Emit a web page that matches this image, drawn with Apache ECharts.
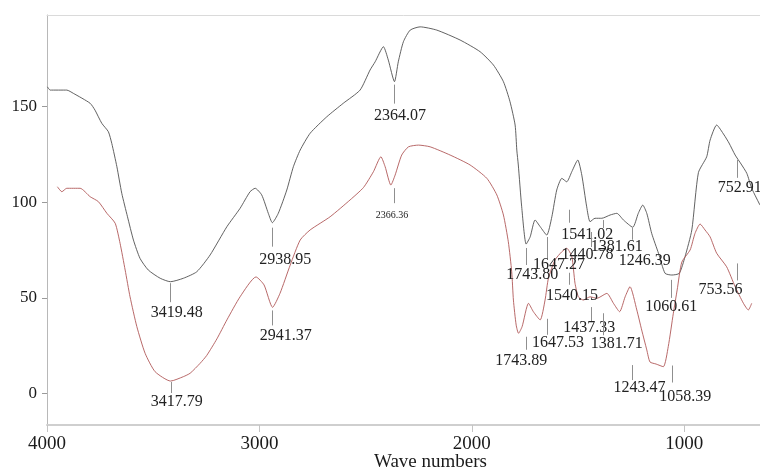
<!DOCTYPE html>
<html>
<head>
<meta charset="utf-8">
<script src="https://cdn.jsdelivr.net/npm/echarts@6/dist/echarts.min.js"></script>
<style>
  html, body { margin: 0; padding: 0; background: #fff; }
  #chart { width: 760px; height: 469px; }
</style>
</head>
<body>
<div id="chart"></div>
<script>
// FTIR spectra: transmittance against wave number (cm-1)
const xTicks = [4000, 3000, 2000, 1000];
const yTicks = [0, 50, 100, 150];

// upper spectrum (dark line)
const blackWn = [3998, 3985, 3907, 3876, 3797, 3774, 3742, 3711, 3695, 3671, 3648, 3621, 3593, 3562, 3523, 3467, 3419, 3358, 3295, 3232, 3153, 3091, 3044, 3020, 2989, 2958, 2939, 2911, 2871, 2840, 2808, 2761, 2683, 2605, 2526, 2479, 2455, 2416, 2393, 2364, 2346, 2322, 2290, 2243, 2165, 2055, 1961, 1898, 1851, 1820, 1796, 1788, 1781, 1765, 1744, 1725, 1702, 1678, 1647, 1623, 1600, 1576, 1553, 1529, 1501, 1482, 1459, 1443, 1420, 1388, 1349, 1317, 1286, 1242, 1216, 1195, 1176, 1153, 1121, 1090, 1058, 1023, 996, 964, 933, 894, 878, 847, 812, 789, 760, 732, 705, 682, 643];
const blackT = [160.4, 158.7, 158.7, 157.0, 151.8, 148.2, 141.3, 136.9, 130.8, 118.6, 104.7, 92.4, 80.2, 70.6, 64.5, 60.2, 58.4, 60.2, 63.6, 72.4, 87.2, 96.8, 105.5, 107.3, 103.8, 94.2, 89.3, 94.2, 106.4, 118.6, 127.3, 136.1, 144.7, 151.8, 158.7, 169.2, 173.5, 181.4, 174.4, 163.1, 173.5, 184.0, 190.1, 191.8, 190.1, 184.9, 178.8, 171.8, 163.1, 152.6, 140.4, 127.3, 119.5, 97.6, 78.1, 81.9, 90.7, 87.2, 82.8, 92.4, 106.4, 112.5, 110.7, 116.0, 122.1, 114.2, 97.6, 89.8, 91.6, 91.6, 93.3, 94.2, 90.7, 86.9, 94.2, 98.5, 94.2, 83.7, 73.3, 62.8, 61.9, 62.8, 71.5, 85.5, 115.5, 123.8, 132.5, 140.4, 135.2, 131.0, 124.7, 120.0, 115.1, 107.3, 98.5];

// lower spectrum (red line)
const redWn = [3951, 3930, 3907, 3844, 3797, 3758, 3718, 3679, 3656, 3632, 3609, 3577, 3538, 3491, 3418, 3358, 3326, 3279, 3248, 3200, 3153, 3091, 3016, 2978, 2938, 2903, 2855, 2808, 2761, 2667, 2573, 2510, 2463, 2428, 2408, 2381, 2361, 2330, 2298, 2251, 2196, 2102, 2008, 1929, 1882, 1851, 1828, 1812, 1804, 1791, 1780, 1763, 1733, 1710, 1678, 1655, 1639, 1608, 1576, 1553, 1529, 1514, 1498, 1475, 1443, 1411, 1364, 1333, 1304, 1278, 1255, 1223, 1200, 1176, 1161, 1132, 1098, 1075, 1051, 1033, 1011, 972, 949, 925, 902, 878, 847, 800, 760, 721, 698, 682];
const redT = [108.1, 105.5, 107.3, 107.3, 102.9, 100.3, 94.2, 89.0, 78.5, 64.5, 50.5, 34.9, 20.9, 11.3, 6.4, 8.7, 10.5, 15.7, 19.8, 28.5, 38.4, 50.5, 60.9, 56.7, 45.0, 52.3, 67.1, 80.2, 85.5, 92.4, 101.2, 107.7, 116.0, 123.8, 118.6, 109.0, 114.2, 124.7, 129.0, 129.9, 129.0, 124.7, 119.5, 112.5, 103.8, 93.3, 79.3, 63.6, 48.8, 35.7, 31.4, 34.9, 47.1, 42.7, 38.4, 48.8, 60.3, 69.8, 74.1, 75.9, 71.5, 57.6, 50.5, 48.8, 50.5, 49.7, 52.3, 47.1, 42.7, 50.5, 55.8, 43.6, 33.1, 22.7, 16.4, 15.3, 13.9, 24.4, 41.9, 54.1, 68.7, 75.0, 83.7, 88.6, 85.5, 81.9, 73.3, 66.2, 55.8, 47.1, 43.6, 47.1];

// labelled band positions
const blackPeaks = ['3419.48', '2938.95', '2364.07', '1743.80', '1647.27', '1541.02', '1440.78', '1381.61', '1246.39', '1060.61', '752.91'];
const redPeaks = ['3417.79', '2941.37', '2366.36', '1743.89', '1647.53', '1540.15', '1437.33', '1381.71', '1243.47', '1058.39', '753.56'];

// leader placement in pixels: [gap below curve, leader length, label dx, label dy]
const blackMarkLayout = [
  [1.5, 19, 6.5, 11], [5, 19, 13, 13], [3, 19, 5.6, 12], [4, 17, 6, 10],
  [2, 21, 12.4, 7], [33, 13, 18, 12], [10.6, 15, -3, 8], [2.3, 8, 13.7, 19],
  [1.2, 12, 13, 21], [5, 18, 0, 9], [2.5, 18, 3, 10]
];
const redMarkLayout = [
  [1, 11, 6, 9], [5, 15, 14, 10], [10.4, 15, -1.9, 12], [25, 13, -5, 11],
  [29, 16, 11.4, 8], [20, 12, 2.6, 11], [10, 15, -2, 6], [18, 22, 13.7, 9],
  [70, 15, 7, 8], [42, 17, 13.4, 14], [-26, 17, -16, 9]
];
const redFontSizes = [16, 16, 10, 16, 16, 16, 16, 16, 16, 16, 16];

const SERIF = '"Liberation Serif", "DejaVu Serif", serif';
const X_MIN = 643;
const X_MAX = 4000;

function interp(wns, vals, w) {
  for (let i = 0; i < wns.length - 1; i++) {
    const a = wns[i], b = wns[i + 1];
    if ((w <= a && w >= b) || (w >= a && w <= b)) {
      const t = (w - a) / (b - a);
      return vals[i] + t * (vals[i + 1] - vals[i]);
    }
  }
  return vals[vals.length - 1];
}

function pairs(wns, vals) {
  return wns.map((w, i) => [w, vals[i]]);
}

function markSeries(peaks, wns, vals, layout, sizes) {
  return {
    type: 'custom',
    silent: true,
    clip: false,
    z: 5,
    data: peaks.map((s, i) => {
      const w = parseFloat(s);
      return [w, interp(wns, vals, w), i];
    }),
    renderItem: function (params, api) {
      const i = api.value(2);
      const p = api.coord([api.value(0), api.value(1)]);
      const l = layout[i];
      const x = Math.round(p[0]) + 0.5;
      const y1 = p[1] + l[0];
      const y2 = y1 + l[1];
      return {
        type: 'group',
        children: [
          {
            type: 'line',
            shape: { x1: x, y1: y1, x2: x, y2: y2 },
            style: { stroke: '#8f8f8f', lineWidth: 1 }
          },
          {
            type: 'text',
            x: p[0] + l[2],
            y: y2 + l[3],
            style: {
              text: peaks[i],
              align: 'center',
              verticalAlign: 'middle',
              fontFamily: SERIF,
              fontSize: sizes ? sizes[i] : 16,
              fill: '#222'
            }
          }
        ]
      };
    }
  };
}

const chart = echarts.init(document.getElementById('chart'), null, { renderer: 'canvas' });
chart.setOption({
  animation: false,
  backgroundColor: '#fff',
  grid: { left: 47, right: 0, top: 15, bottom: 44 },
  xAxis: [
    {
      type: 'value',
      inverse: true,
      min: X_MIN,
      max: X_MAX,
      axisLine: { show: true, onZero: false, lineStyle: { color: '#cfcfcf', width: 2 } },
      axisTick: { show: true, customValues: xTicks, length: 7, lineStyle: { color: '#c4c4c4' } },
      axisLabel: {
        customValues: xTicks, margin: 10,
        formatter: function (v) { return String(v); },
        fontFamily: SERIF, fontSize: 19, color: '#1a1a1a'
      },
      splitLine: { show: false }
    },
    {
      // frame line along the top of the plot
      type: 'value',
      position: 'top',
      inverse: true,
      min: X_MIN,
      max: X_MAX,
      axisLine: { show: true, onZero: false, lineStyle: { color: '#dadada', width: 1 } },
      axisTick: { show: false },
      axisLabel: { show: false },
      splitLine: { show: false }
    }
  ],
  yAxis: {
    type: 'value',
    min: -16.6,
    max: 198,
    axisLine: { show: true, onZero: false, lineStyle: { color: '#b8b8b8', width: 1 } },
    axisTick: { show: true, customValues: yTicks, length: 5, lineStyle: { color: '#9a9a9a' } },
    axisLabel: {
      customValues: yTicks, margin: 10,
      formatter: function (v) { return String(v); },
      fontFamily: SERIF, fontSize: 17, color: '#1a1a1a'
    },
    splitLine: { show: false }
  },
  graphic: [{
    type: 'text',
    left: 432 - 58,
    top: 453,
    style: {
      text: 'Wave numbers',
      fontFamily: SERIF,
      fontSize: 19,
      fill: '#1a1a1a'
    }
  }],
  series: [
    {
      type: 'line',
      data: pairs(blackWn, blackT),
      showSymbol: false,
      smooth: 0.2,
      lineStyle: { color: '#505050', width: 0.9 },
      z: 3
    },
    {
      type: 'line',
      data: pairs(redWn, redT),
      showSymbol: false,
      smooth: 0.2,
      lineStyle: { color: '#b05858', width: 0.9 },
      z: 3
    },
    markSeries(blackPeaks, blackWn, blackT, blackMarkLayout, null),
    markSeries(redPeaks, redWn, redT, redMarkLayout, redFontSizes)
  ]
});
</script>
</body>
</html>
